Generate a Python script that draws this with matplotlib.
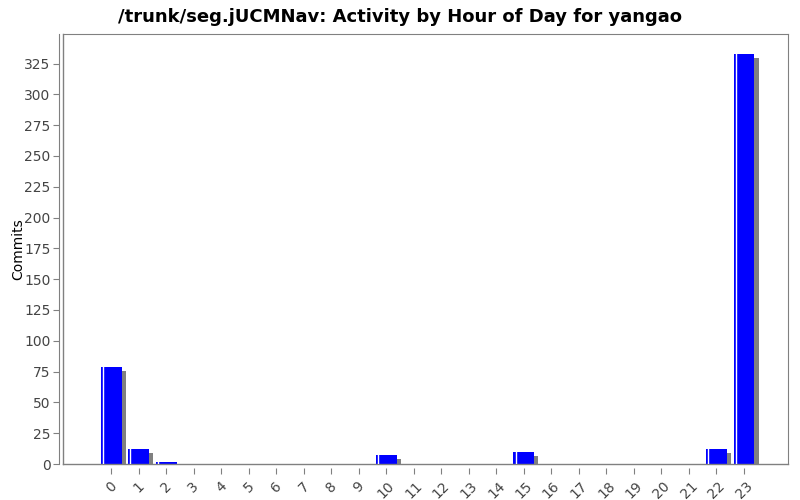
import matplotlib
matplotlib.use("Agg")
import matplotlib.pyplot as plt

# commits per hour of day
hours = list(range(24))
commits = [79, 12, 2, 0, 0, 0, 0, 0, 0, 0, 7, 0, 0, 0, 0, 10, 0, 0, 0, 0, 0, 0, 12, 333]
y_ticks = list(range(0, 326, 25))

fig = plt.figure(figsize=(8, 5), dpi=100)
ax = fig.add_axes([63 / 800, 36 / 500, 725 / 800, 430 / 500])

w = 0.76
# shadow bars
ax.bar([h + 0.15 for h in hours], [max(c - 3.2, 0) for c in commits], width=w,
       color='#808080', zorder=1)
ax.bar(hours, commits, width=w, color='#0000ff', zorder=2)
# white highlight line near the left edge
for h, c in zip(hours, commits):
    if c > 0:
        ax.plot([h - w / 2 + 0.08] * 2, [0, c], color='white', lw=1, zorder=3)

ax.set_xlim(-1.75, 24.6)
ax.set_ylim(0, 349)
ax.set_xticks(hours)
ax.set_xticklabels([str(h) for h in hours], fontsize=8)
ax.set_yticks(y_ticks)
ax.set_yticklabels([str(v) for v in y_ticks], fontsize=8)

for s in ax.spines.values():
    s.set_color('#808080')
ax.spines['left'].set_position(('outward', 3))
ax.spines['bottom'].set_position(('outward', 3))
ax.spines['bottom'].set_color('none')
ax.plot([0, 0], [0, 1], transform=ax.transAxes, color='#808080', lw=1, clip_on=False)
ax.plot([0, 1], [0, 0], transform=ax.transAxes, color='#808080', lw=1, clip_on=False)
ax.tick_params(colors='#808080', labelcolor='#444444', length=4)
ax.tick_params(axis='y', pad=2)
ax.tick_params(axis='x', labelrotation=45)

ax.set_ylabel('Commits', fontsize=10)
ax.yaxis.set_label_coords(-0.052, 0.5)
fig.suptitle('/trunk/seg.jUCMNav: Activity by Hour of Day for yangao',
             fontsize=13, fontweight='bold', y=0.985)

fig.savefig('out.png')
